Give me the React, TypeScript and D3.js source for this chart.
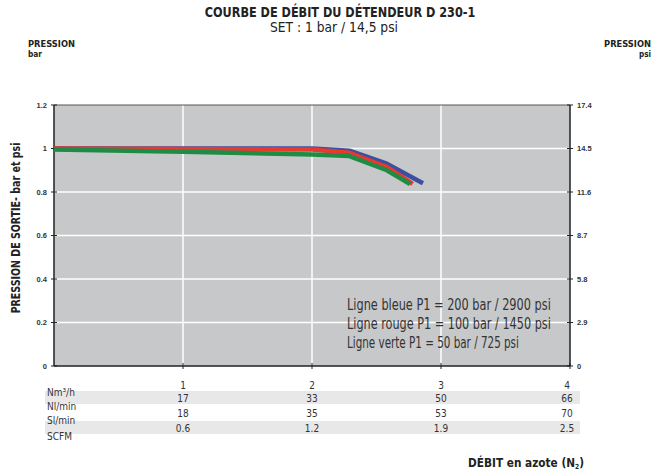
import React, { useEffect, useRef } from 'react';
import * as d3 from 'd3';

// flow (Nm3/h) vs outlet pressure (bar)
const blueX = [0, 1, 2, 2.29, 2.58, 2.86];
const blueY = [1.0, 1.0, 1.0, 0.99, 0.93, 0.84];
const redX = [0, 1, 2, 2.29, 2.58, 2.78];
const redY = [1.0, 0.998, 0.995, 0.98, 0.915, 0.837];
const greenX = [0, 1, 2, 2.29, 2.58, 2.76];
const greenY = [0.995, 0.985, 0.972, 0.965, 0.9, 0.837];

const barTicks = [0, 0.2, 0.4, 0.6, 0.8, 1, 1.2];
const psiLabels = ['0', '2.9', '5.8', '8.7', '11.6', '14.5', '17.4'];
const flowTicks = [1, 2, 3, 4];
const nlMin = ['17', '33', '50', '66'];
const slMin = ['18', '35', '53', '70'];
const scfm = ['0.6', '1.2', '1.9', '2.5'];
const legendLines = [
  'Ligne bleue P1 = 200 bar / 2900 psi',
  'Ligne rouge P1 = 100 bar / 1450 psi',
  'Ligne verte P1 = 50 bar / 725 psi',
];

const NARROW = "'Liberation Sans Narrow', 'DejaVu Sans Condensed', 'Open Sans', sans-serif";
const SANS = "'Liberation Sans', Arial, sans-serif";

const App = () => {
  const ref = useRef<SVGSVGElement>(null);

  useEffect(() => {
    const W = 652, H = 473;
    const margin = { top: 105, right: 82, bottom: 107, left: 54 };
    const width = W - margin.left - margin.right;
    const height = H - margin.top - margin.bottom;

    const svg = d3.select(ref.current);
    svg.selectAll('*').remove();
    svg.attr('width', W).attr('height', H);

    const x = d3.scaleLinear().domain([0, 4]).range([0, width]);
    const y = d3.scaleLinear().domain([0, 1.2]).range([height, 0]);

    // squeeze a text horizontally so it takes the condensed width of the original
    const fitText = (sel: any, tx: number, ty: number, target: number, rotate = 0) => {
      const w = (sel.node() as SVGTextElement).getComputedTextLength();
      const k = w > 0 ? target / w : 1;
      sel.attr('transform', `translate(${tx},${ty}) rotate(${rotate}) scale(${k},1)`);
      return sel;
    };

    // titles
    const title = svg.append('text').attr('text-anchor', 'middle')
      .style('font-family', NARROW).style('font-weight', 'bold').style('font-size', '14px').style('fill', '#222')
      .text('COURBE DE DÉBIT DU DÉTENDEUR D 230-1');
    fitText(title, 340, 17, 271);
    const sub = svg.append('text').attr('text-anchor', 'middle')
      .style('font-family', NARROW).style('font-size', '13.5px').style('fill', '#222')
      .text('SET : 1 bar / 14,5 psi');
    fitText(sub, 334, 32, 128);

    const unit = (tx: number, ty: number, anchor: string, t: string, w: number) => {
      const s = svg.append('text').attr('text-anchor', anchor)
        .style('font-family', NARROW).style('font-weight', 'bold').style('font-size', '9.5px').style('fill', '#222')
        .text(t);
      fitText(s, tx, ty, w);
    };
    unit(28, 47, 'start', 'PRESSION', 47);
    unit(28, 57, 'start', 'bar', 14);
    unit(651, 47, 'end', 'PRESSION', 47);
    unit(651, 57, 'end', 'psi', 12);

    // y axis title
    const yt = svg.append('text').attr('text-anchor', 'middle')
      .style('font-family', NARROW).style('font-weight', 'bold').style('font-size', '12.5px').style('fill', '#222')
      .text('PRESSION DE SORTIE- bar et psi');
    fitText(yt, 20, 228, 171, -90);

    const g = svg.append('g').attr('transform', `translate(${margin.left},${margin.top})`);

    g.append('rect').attr('width', width).attr('height', height).style('fill', '#c7c8c9');

    // grid
    g.selectAll('.hg').data(barTicks.filter(d => d > 0 && d < 1.2)).enter().append('line')
      .attr('x1', 0).attr('x2', width).attr('y1', d => y(d)).attr('y2', d => y(d))
      .style('stroke', '#fff').style('stroke-width', 1.5);
    g.selectAll('.vg').data(flowTicks.filter(d => d < 4)).enter().append('line')
      .attr('x1', d => x(d)).attr('x2', d => x(d)).attr('y1', 0).attr('y2', height)
      .style('stroke', '#fff').style('stroke-width', 1.5);

    // frame
    g.append('line').attr('x1', 0).attr('x2', width).attr('y1', 0).attr('y2', 0).style('stroke', '#555').style('stroke-width', 1);
    g.append('line').attr('x1', 0).attr('x2', width).attr('y1', height).attr('y2', height).style('stroke', '#222').style('stroke-width', 1.5);
    g.append('line').attr('x1', 0).attr('x2', 0).attr('y1', 0).attr('y2', height).style('stroke', '#222').style('stroke-width', 1.5);
    g.append('line').attr('x1', width).attr('x2', width).attr('y1', 0).attr('y2', height).style('stroke', '#222').style('stroke-width', 1.5);

    // ticks
    barTicks.forEach((d, i) => {
      g.append('line').attr('x1', -3).attr('x2', 3).attr('y1', y(d)).attr('y2', y(d)).style('stroke', '#222');
      g.append('line').attr('x1', width - 3).attr('x2', width + 3).attr('y1', y(d)).attr('y2', y(d)).style('stroke', '#222');
      g.append('text').attr('x', -7).attr('y', y(d)).attr('dy', '0.35em').attr('text-anchor', 'end')
        .style('font-family', SANS).style('font-weight', 'bold').style('font-size', '7.5px').style('fill', '#333')
        .text(String(d));
      g.append('text').attr('x', width + 7).attr('y', y(d)).attr('dy', '0.35em').attr('text-anchor', 'start')
        .style('font-family', SANS).style('font-weight', 'bold').style('font-size', '7.5px').style('fill', '#333')
        .text(psiLabels[i]);
    });
    flowTicks.forEach(d => {
      g.append('line').attr('x1', x(d)).attr('x2', x(d)).attr('y1', height - 3).attr('y2', height + 3).style('stroke', '#222');
    });

    // lines
    const line = d3.line<[number, number]>().x(d => x(d[0])).y(d => y(d[1]));
    const series: [number[], number[], string][] = [
      [blueX, blueY, '#3d4fa0'],
      [redX, redY, '#e63a2e'],
      [greenX, greenY, '#1f8c45'],
    ];
    series.forEach(([xs, ys, c]) => {
      g.append('path').datum(xs.map((v, i) => [v, ys[i]] as [number, number]))
        .attr('d', line).style('fill', 'none').style('stroke', c).style('stroke-width', 4.5)
        .style('stroke-linejoin', 'round');
    });

    // legend
    legendLines.forEach((t, i) => {
      const s = g.append('text')
        .style('font-family', NARROW).style('font-size', '15.5px').style('fill', '#333')
        .text(t);
      fitText(s, 293, 205 + i * 19, i === 2 ? 172 : 204);
    });

    // table below
    const tb = svg.append('g');
    tb.append('rect').attr('x', 45).attr('y', 391).attr('width', 535).attr('height', 13).style('fill', '#e8e8e8');
    tb.append('rect').attr('x', 45).attr('y', 421).attr('width', 535).attr('height', 13).style('fill', '#e8e8e8');
    const rows: [string[], number][] = [
      [flowTicks.map(String), 389],
      [nlMin, 402],
      [slMin, 417],
      [scfm, 432],
    ];
    rows.forEach(([vals, yy]) => {
      vals.forEach((v, i) => {
        tb.append('text').attr('x', margin.left + x(flowTicks[i]) - (i === 3 ? 3 : 0)).attr('y', yy).attr('text-anchor', 'middle')
          .style('font-family', NARROW).style('font-size', '10px').style('fill', '#333')
          .text(v);
      });
    });
    const rowLabels: [string, number][] = [['Nm³/h', 396], ['Nl/min', 410], ['Sl/min', 424], ['SCFM', 440]];
    rowLabels.forEach(([t, yy]) => {
      tb.append('text').attr('x', 47).attr('y', yy)
        .style('font-family', NARROW).style('font-size', '10px').style('fill', '#333')
        .text(t);
    });

    const xt = svg.append('text').attr('text-anchor', 'end')
      .style('font-family', NARROW).style('font-weight', 'bold').style('font-size', '12.5px').style('fill', '#222');
    xt.append('tspan').text('DÉBIT en azote (N');
    xt.append('tspan').attr('dy', 2).style('font-size', '7px').text('2');
    xt.append('tspan').attr('dy', -2).text(')');
    fitText(xt, 584, 467, 116);
  }, []);

  return (
    <div style={{ position: 'absolute', left: 0, top: 0 }}>
      <svg ref={ref} style={{ display: 'block' }} />
    </div>
  );
};

export default App;
